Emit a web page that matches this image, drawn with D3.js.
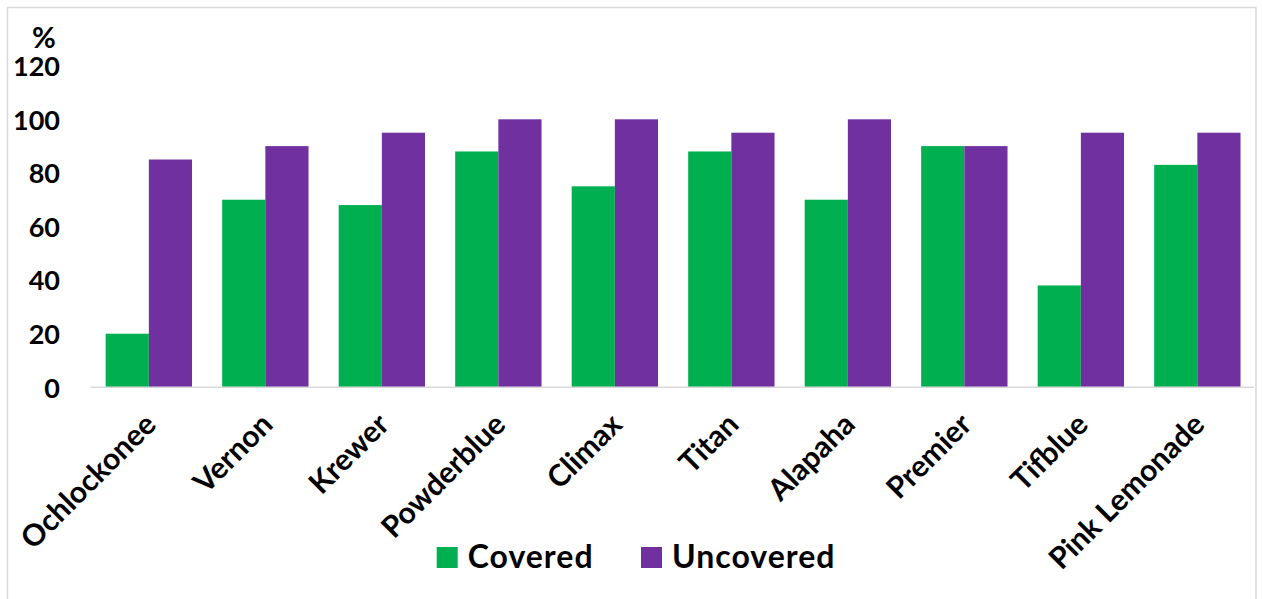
<!DOCTYPE html>
<html>
<head>
<meta charset="utf-8">
<script src="https://cdn.jsdelivr.net/npm/d3@7"></script>
<style>
  html, body { margin: 0; padding: 0; background: #fff; }
  svg text { font-family: Lato, "Open Sans", sans-serif; font-weight: bold; fill: #000; }
</style>
</head>
<body>
<svg id="chart" width="1262" height="599"></svg>
<script>
// Cultivar names along the x axis
const categories = ["Ochlockonee", "Vernon", "Krewer", "Powderblue", "Climax",
                    "Titan", "Alapaha", "Premier", "Tifblue", "Pink Lemonade"];
// Percent values per series
const covered   = [20, 70, 68, 88, 75, 88, 70, 90, 38, 83];
const uncovered = [85, 90, 95, 100, 100, 95, 100, 90, 95, 95];
const seriesNames = ["Covered", "Uncovered"];
const seriesColors = ["#00B050", "#7030A0"];
const yTicks = [0, 20, 40, 60, 80, 100, 120];

const svg = d3.select("#chart");

// outer chart frame
svg.append("rect")
  .attr("x", 7.5).attr("y", 7.5)
  .attr("width", 1248.5).attr("height", 600)
  .attr("fill", "none").attr("stroke", "#D9D9D9").attr("stroke-width", 1.5);

const plot = { left: 90.6, right: 1255.6, top: 65.7, bottom: 387.3 };

const x = d3.scaleBand()
  .domain(categories)
  .range([plot.left, plot.right])
  .paddingInner(0.259)
  .paddingOuter(0.1295);

const xs = d3.scaleBand()
  .domain(seriesNames)
  .range([0, x.bandwidth()]);

const y = d3.scaleLinear().domain([0, 120]).range([plot.bottom, plot.top]);

const rows = categories.map((c, i) => ({ cat: c, vals: [covered[i], uncovered[i]] }));

// bars
const groups = svg.append("g").selectAll("g")
  .data(rows).join("g")
  .attr("transform", d => `translate(${x(d.cat)},0)`);

groups.selectAll("rect")
  .data(d => d.vals.map((v, k) => ({ key: seriesNames[k], v, k })))
  .join("rect")
  .attr("x", d => xs(d.key))
  .attr("width", xs.bandwidth())
  .attr("y", d => y(d.v))
  .attr("height", d => y(0) - y(d.v))
  .attr("fill", d => seriesColors[d.k]);

// category baseline
svg.append("line")
  .attr("x1", plot.left).attr("x2", plot.right - 1.5)
  .attr("y1", y(0)).attr("y2", y(0))
  .attr("stroke", "#D9D9D9").attr("stroke-width", 1.5);

// y axis labels (no axis line)
const yAxis = d3.axisLeft(y).tickValues(yTicks).tickSize(0).tickPadding(0);
const yg = svg.append("g").attr("transform", "translate(60,0)").call(yAxis);
yg.select(".domain").remove();
yg.selectAll("text")
  .attr("font-family", "Lato, 'Open Sans', sans-serif")
  .attr("font-weight", "bold")
  .attr("font-size", 27)
  .attr("fill", "#000")
  .attr("dy", "0.36em");

// unit label
svg.append("text")
  .attr("x", 44).attr("y", 48)
  .attr("text-anchor", "middle")
  .attr("font-size", 29)
  .text("%");

// rotated category labels
const xAxis = d3.axisBottom(x).tickSize(0).tickPadding(0);
const xg = svg.append("g").attr("transform", `translate(0,${y(0)})`).call(xAxis);
xg.select(".domain").remove();
xg.selectAll("text")
  .attr("font-family", "Lato, 'Open Sans', sans-serif")
  .attr("font-weight", "bold")
  .attr("font-size", 30)
  .attr("fill", "#000")
  .attr("text-anchor", "end")
  .attr("y", 0).attr("dy", 0)
  .attr("transform", "translate(9,39) rotate(-45)");

// legend
const legend = svg.append("g");
const legendX = [436.7, 641];
seriesNames.forEach((name, k) => {
  legend.append("rect")
    .attr("x", legendX[k]).attr("y", 547)
    .attr("width", 21).attr("height", 21)
    .attr("fill", seriesColors[k]);
  legend.append("text")
    .attr("x", legendX[k] + 31).attr("y", 567.5)
    .attr("font-size", 32)
    .attr("letter-spacing", 1)
    .text(name);
});
</script>
</body>
</html>
